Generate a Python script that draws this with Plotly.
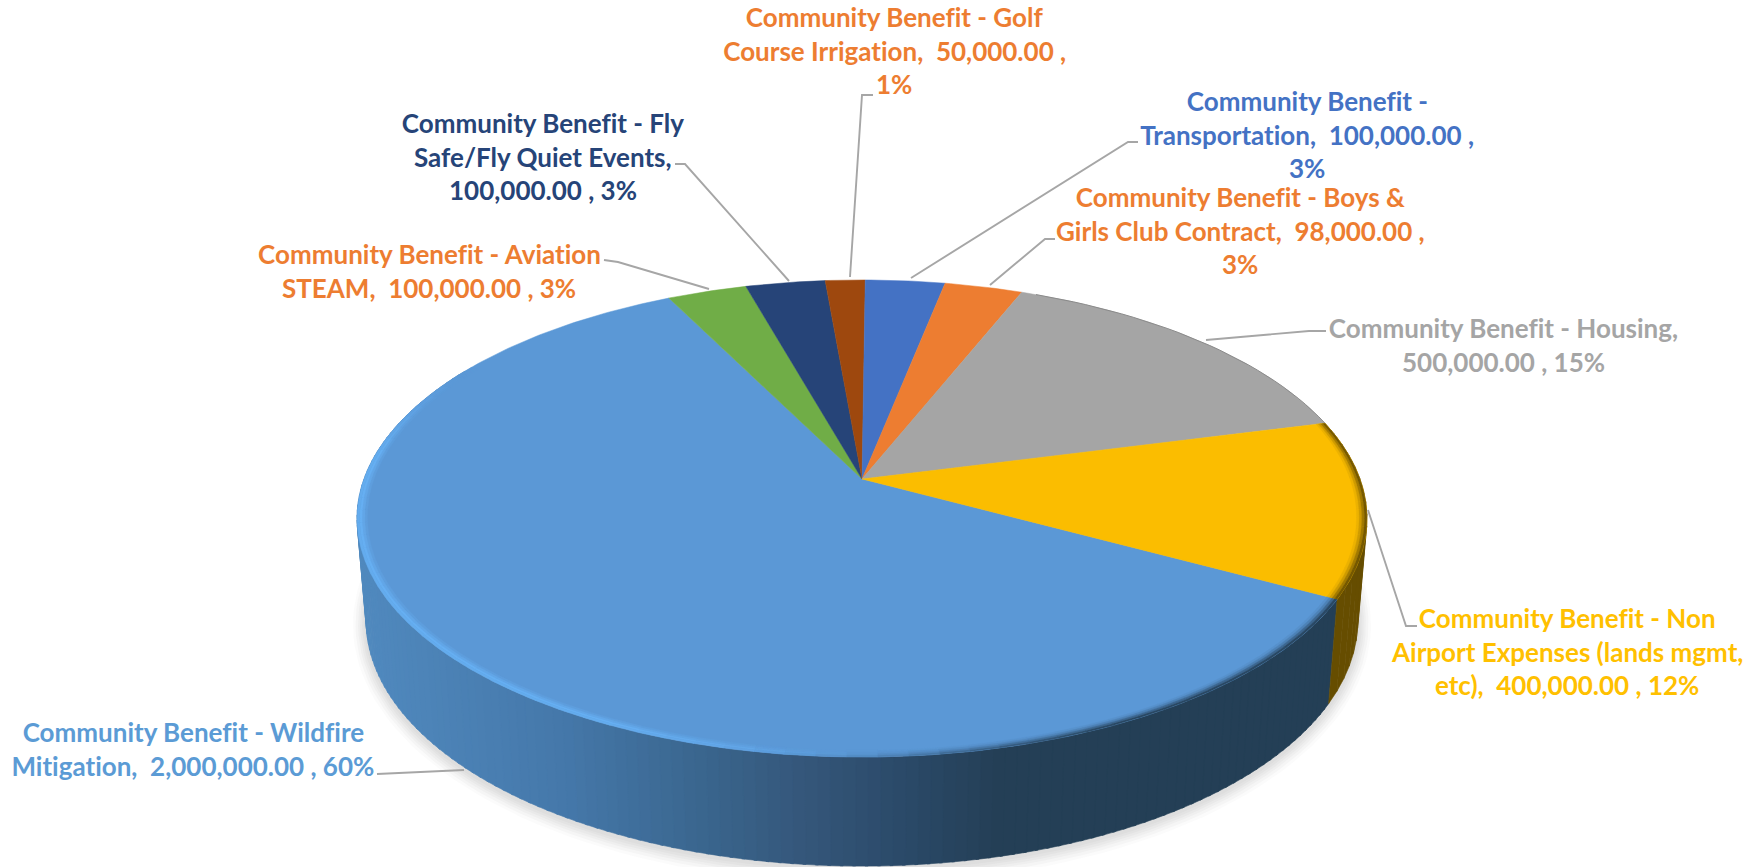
import numpy as np
import plotly.graph_objects as go

# ---------- data ----------
categories = ["Community Benefit - Wildfire Mitigation", "Community Benefit - Aviation STEAM",
              "Community Benefit - Fly Safe/Fly Quiet Events", "Community Benefit - Golf Course Irrigation",
              "Community Benefit - Transportation", "Community Benefit - Boys & Girls Club Contract",
              "Community Benefit - Housing", "Community Benefit - Non Airport Expenses (lands mgmt, etc)"]
values = [2000000, 100000, 100000, 50000, 100000, 98000, 500000, 400000]
slice_colors = ["#5b98d6", "#70ad47", "#264478", "#9e480e", "#4472c4", "#ed7d31", "#a5a5a5", "#fbbd00"]

label_lines = [
    ["Community Benefit - Wildfire", "Mitigation,  2,000,000.00 , 60%"],
    ["Community Benefit - Aviation", "STEAM,  100,000.00 , 3%"],
    ["Community Benefit - Fly", "Safe/Fly Quiet Events,", "100,000.00 , 3%"],
    ["Community Benefit - Golf", "Course Irrigation,  50,000.00 ,", "1%"],
    ["Community Benefit -", "Transportation,  100,000.00 ,", "3%"],
    ["Community Benefit - Boys &", "Girls Club Contract,  98,000.00 ,", "3%"],
    ["Community Benefit - Housing,", "500,000.00 , 15%"],
    ["Community Benefit - Non", "Airport Expenses (lands mgmt,", "etc),  400,000.00 , 12%"],
]
label_colors = ["#5b9bd5", "#ed7d31", "#264478", "#ed7d31", "#4472c4", "#ed7d31", "#a5a5a5", "#ffc000"]

# ---------- layout of the drawing (pixels of the 1754x867 canvas) ----------
label_x = [193, 429, 543, 894, 1307, 1240, 1503, 1567]
label_y = [732, 254, 123, 17, 101, 197, 328, 618]
line_gap = 33.7
font_size = 26
leaders = [
    [(377, 774), (464, 770)],
    [(604, 260), (618, 262), (709, 289)],
    [(675, 164), (685, 164), (789, 281)],
    [(873, 95), (862, 95), (850, 277)],
    [(1138, 142), (1128, 142), (911, 278)],
    [(1055, 239), (1045, 239), (990, 285)],
    [(1326, 331), (1309, 331), (1206, 340)],
    [(1417, 626), (1406, 626), (1368, 510)],
]
ROT = 118.5
CX, TOP_Y, TOP_RX, TOP_RY = 862, 479, 498, 232
BOT_Y, BOT_RX, BOT_RY = 580, 489, 238.7
K = 0.1656


def project(deg, r=1.0, cy=TOP_Y, rx=TOP_RX, ry=TOP_RY):
    a = np.radians(deg)
    u, v = r * np.sin(a), r * np.cos(a)
    w = 1 + K * v
    return CX + rx * u / w, cy - ry * v / w


def hex2rgb(c):
    return np.array([int(c[i:i + 2], 16) for i in (1, 3, 5)], float)


def mix(a, b, t):
    t = float(np.clip(t, 0, 1))
    r = hex2rgb(a) * (1 - t) + hex2rgb(b) * t
    return "#%02x%02x%02x" % tuple(int(v) for v in r.round())


def poly(xs, ys, color, lw=0.6):
    fig.add_trace(go.Scatter(x=list(xs), y=list(ys), mode="lines", fill="toself", fillcolor=color,
                             line=dict(color=color, width=lw), hoverinfo="skip", showlegend=False))


def wall_color(x):
    stops_x = [360, 560, 700, 800, 900, 1000]
    stops = [(80, 137, 190), (69, 120, 170), (58, 102, 142), (53, 87, 123), (43, 74, 105), (36, 63, 86)]
    c = [np.interp(x, stops_x, [s[i] for s in stops]) for i in range(3)]
    return "#%02x%02x%02x" % tuple(int(round(v)) for v in c)


def wall_quad(a, b, color):
    xa, ya = project(a)
    xb, yb = project(b)
    xc, yc = project(b, 1, BOT_Y, BOT_RX, BOT_RY)
    xd, yd = project(a, 1, BOT_Y, BOT_RX, BOT_RY)
    poly([xa, xb, xc, xd, xa], [ya, yb, yc, yd, ya], color)


fig = go.Figure()

total = sum(values)
edges = ROT + 360 * np.concatenate([[0], np.cumsum(values)]) / total

# soft shadow below the body
for grow, alpha in zip([13, 10.5, 8, 6, 4, 2], [0.025, 0.035, 0.04, 0.04, 0.04, 0.04]):
    th = np.linspace(0, 360, 181)
    xs, ys = project(th, 1, BOT_Y + 2, BOT_RX + grow, BOT_RY + grow)
    poly(xs, ys, "rgba(90,90,90,%.3f)" % alpha, 0)

# side wall: Wildfire and Non-Airport slices are the only ones that face the viewer
steps = np.linspace(edges[0], min(edges[1], 300), 150)
for a, b in zip(steps[:-1], steps[1:]):
    wall_quad(a, b + 0.3, wall_color((project(a)[0] + project(b)[0]) / 2))

steps = np.linspace(edges[7], edges[8], 16)
for a, b in zip(steps[:-1], steps[1:]):
    wall_quad(a, b, "#664d00")

# top faces
for i, c in enumerate(slice_colors):
    th = np.linspace(edges[i], edges[i + 1], max(4, int((edges[i + 1] - edges[i]) * 1.5)))
    xs, ys = project(th)
    poly(np.r_[CX, xs, CX], np.r_[TOP_Y, ys, TOP_Y], c, 0.5)


# bevel on the rim of the top face
def band(deg_a, deg_b, r_in, r_out, color):
    th = np.linspace(deg_a, deg_b, 4)
    xo, yo = project(th, r_out)
    xi, yi = project(th[::-1], r_in)
    poly(np.r_[xo, xi, xo[0]], np.r_[yo, yi, yo[0]], color, 0.3)


HIGHLIGHT = "#66aff2"
layers = [(0.980, 0.985), (0.985, 0.990), (0.990, 0.995), (0.995, 1.0)]
for a in np.arange(edges[0], min(edges[1], 300), 3.0):
    b = a + 3.05
    m = (a + b) / 2
    xm = project(m)[0]
    dark = np.clip((195 - m) / 40, 0, 1)          # right part of the rim blurs to the wall colour
    light = np.clip((m - 170) / 35, 0, 1) * np.clip((298 - m) / 22, 0, 1)
    wall = wall_color(xm)
    for (ri, ro), td, tl in zip(layers, [0.08, 0.25, 0.55, 0.9], [0.25, 0.6, 1.0, 0.85]):
        col = mix(slice_colors[0], wall, td * dark)
        col = mix(col, HIGHLIGHT, tl * light)
        band(a, b, ri, ro, col)

for a in np.arange(edges[7], edges[8], 2.0):
    b = min(a + 2.05, edges[8])
    m = (a + b) / 2
    strength = np.clip((m - 72) / 28, 0.12, 1)
    for (ri, ro), tt in zip(layers, [0.1, 0.3, 0.6, 0.9]):
        band(a, b, ri, ro, mix(slice_colors[7], "#664d00", tt * strength))

th = np.linspace(edges[6] + 2, edges[7], 30)
xs, ys = project(th)
fig.add_trace(go.Scatter(x=xs, y=ys, mode="lines", line=dict(color="#8a8a8a", width=1.0),
                         hoverinfo="skip", showlegend=False))

# leader lines
for pts in leaders:
    fig.add_trace(go.Scatter(x=[p[0] for p in pts], y=[p[1] for p in pts], mode="lines",
                             line=dict(color="#a6a6a6", width=1.9), hoverinfo="skip", showlegend=False))

# labels, one annotation per line so the line spacing matches
annotations = []
for lines, lx, ly, col in zip(label_lines, label_x, label_y, label_colors):
    for j, text in enumerate(lines):
        annotations.append(dict(x=lx, y=ly + j * line_gap, xref="x", yref="y", text=text, showarrow=False,
                                xanchor="center", yanchor="middle",
                                font=dict(family="Lato", size=font_size, color=col, weight="bold")))

fig.update_layout(width=1754, height=867, margin=dict(l=0, r=0, t=0, b=0), paper_bgcolor="white",
                  plot_bgcolor="white", showlegend=False, annotations=annotations,
                  xaxis=dict(range=[0, 1754], visible=False, fixedrange=True),
                  yaxis=dict(range=[867, 0], visible=False, fixedrange=True))

fig.write_html("out.html", config={"displayModeBar": False},
               post_script="document.body.style.margin='0';document.body.style.overflow='hidden';"
                           "var s=document.createElement('style');"
                           "s.textContent='text{font-variant-ligatures:none;font-feature-settings:\"liga\" 0;}';"
                           "document.head.appendChild(s);")
